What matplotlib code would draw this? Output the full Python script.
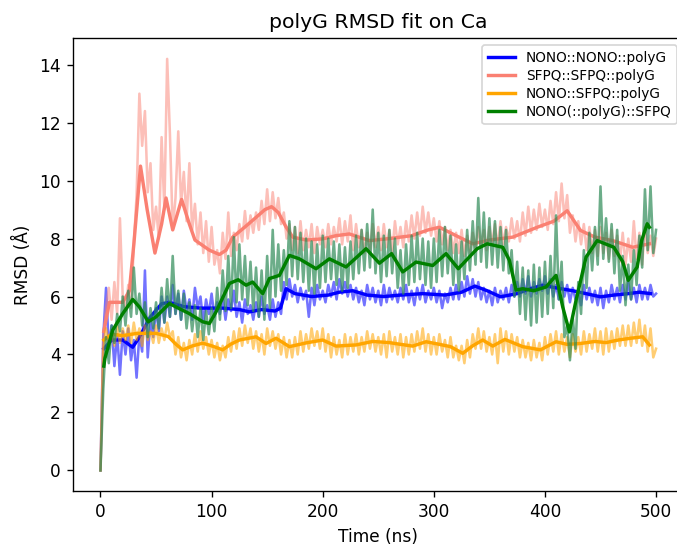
import numpy as np
import matplotlib
matplotlib.use("Agg")
import matplotlib.pyplot as plt

# time axis of the raw traces (ns)
t_raw = np.arange(0, 500.1, 2.5)

labels = ["NONO::NONO::polyG", "SFPQ::SFPQ::polyG", "NONO::SFPQ::polyG", "NONO(::polyG)::SFPQ"]

# raw RMSD (A), one row = 25 ns
nn_raw = [0.0, 4.6, 6.3, 4.2, 5.0, 3.6, 4.7, 3.3, 4.8, 4.0,
          4.9, 3.8, 4.5, 3.2, 4.7, 4.1, 6.9, 3.9, 5.2, 4.6,
          5.6, 4.8, 6.0, 5.1, 6.0, 5.3, 6.4, 5.4, 6.1, 5.2,
          6.2, 5.5, 5.9, 5.2, 6.3, 5.6, 6.0, 5.1, 5.9, 5.4,
          6.1, 5.3, 5.8, 5.4, 6.0, 5.2, 5.9, 5.5, 6.2, 5.3,
          5.8, 5.1, 5.9, 5.4, 5.7, 5.2, 5.8, 5.3, 6.0, 5.4,
          5.7, 5.2, 5.9, 5.3, 5.8, 5.4, 6.5, 5.9, 6.6, 6.0,
          6.4, 5.8, 6.3, 5.9, 6.2, 5.3, 6.3, 5.7, 6.4, 5.9,
          6.2, 5.8, 6.4, 6.0, 6.5, 5.9, 6.6, 6.1, 6.5, 6.0,
          6.4, 5.9, 6.3, 5.8, 6.2, 5.7, 6.4, 5.9, 6.3, 5.8,
          6.2, 5.7, 6.4, 5.8, 6.3, 5.9, 6.2, 5.8, 6.3, 5.9,
          6.4, 5.8, 6.2, 5.7, 6.3, 5.9, 6.4, 5.8, 6.2, 5.9,
          6.3, 5.8, 6.2, 5.6, 6.1, 5.8, 6.3, 5.9, 6.4, 5.9,
          6.5, 6.0, 6.7, 6.1, 6.6, 6.0, 6.5, 5.9, 6.3, 5.8,
          6.2, 5.7, 6.3, 5.8, 6.2, 5.9, 6.3, 5.8, 6.4, 6.0,
          6.5, 6.0, 6.6, 6.1, 6.7, 6.0, 6.5, 6.1, 6.6, 6.2,
          6.7, 6.1, 6.6, 6.0, 6.4, 5.9, 6.5, 6.0, 6.4, 5.8,
          6.3, 5.9, 6.2, 5.7, 6.4, 5.9, 6.3, 5.8, 6.2, 5.7,
          6.3, 5.6, 6.2, 5.8, 6.4, 5.9, 6.3, 5.8, 6.4, 5.9,
          6.5, 5.9, 6.3, 5.8, 6.4, 5.9, 6.3, 5.9, 6.4, 6.0,
          6.1]
ss_raw = [0.0, 4.6, 5.6, 6.3, 5.2, 6.5, 5.4, 8.7, 6.0, 5.5,
          6.4, 5.6, 7.8, 9.5, 13.0, 11.2, 12.4, 9.6, 10.6, 8.3,
          9.1, 8.0, 11.5, 9.0, 14.2, 11.6, 8.3, 9.4, 11.7, 9.2,
          10.3, 8.6, 10.6, 8.3, 9.2, 7.8, 8.9, 7.5, 8.6, 7.2,
          8.4, 7.1, 7.6, 6.8, 8.2, 7.3, 8.9, 7.4, 8.2, 7.6,
          8.5, 7.9, 8.95, 8.0, 8.8, 8.2, 8.9, 8.3, 9.3, 8.5,
          9.7, 8.6, 9.6, 8.7, 9.4, 8.5, 8.9, 8.0, 8.5, 7.6,
          8.4, 7.5, 8.6, 7.6, 8.3, 7.7, 8.5, 7.5, 8.4, 7.8,
          8.3, 7.7, 8.5, 7.8, 8.4, 7.9, 8.7, 7.8, 8.6, 7.9,
          8.8, 7.6, 8.5, 7.7, 8.3, 7.5, 8.2, 7.6, 8.5, 7.7,
          8.4, 7.6, 8.5, 7.7, 8.3, 7.5, 8.6, 7.8, 8.4, 7.7,
          8.6, 7.9, 8.8, 8.0, 8.9, 8.1, 9.1, 8.2, 8.9, 8.1,
          8.7, 7.9, 8.6, 7.8, 8.4, 7.6, 8.3, 7.5, 8.2, 7.5,
          8.3, 7.4, 8.1, 7.5, 8.2, 7.6, 8.4, 7.7, 8.3, 7.6,
          8.4, 7.8, 8.5, 7.7, 8.6, 7.8, 8.4, 7.9, 8.7, 8.0,
          8.6, 7.9, 8.9, 8.1, 9.1, 8.2, 9.0, 8.3, 9.2, 8.4,
          9.0, 8.3, 9.3, 8.5, 9.6, 8.6, 9.9, 8.7, 9.5, 8.2,
          8.8, 7.9, 8.6, 7.8, 8.5, 7.6, 8.4, 7.5, 8.3, 7.4,
          8.4, 7.5, 8.2, 7.3, 8.3, 7.4, 8.1, 7.2, 8.2, 7.1,
          8.0, 7.2, 8.6, 7.3, 8.2, 7.1, 8.4, 7.5, 8.1, 7.4,
          8.0]
ns_raw = [0.0, 4.2, 4.9, 4.4, 4.8, 4.3, 5.0, 4.4, 4.9, 4.5,
          5.0, 4.4, 5.1, 4.5, 4.9, 4.3, 5.0, 4.5, 4.8, 4.4,
          5.0, 4.4, 4.9, 4.5, 5.1, 4.6, 4.8, 4.0, 4.6, 3.9,
          4.4, 3.8, 4.5, 4.0, 4.7, 4.1, 4.8, 4.2, 4.6, 4.0,
          4.5, 3.9, 4.4, 3.8, 4.3, 3.9, 4.6, 4.1, 4.8, 4.2,
          4.9, 4.3, 5.0, 4.4, 4.9, 4.2, 4.8, 4.1, 4.7, 4.0,
          4.9, 4.3, 4.8, 4.2, 4.7, 4.0, 4.6, 3.9, 4.5, 3.9,
          4.6, 4.0, 4.8, 4.1, 4.7, 4.2, 4.9, 4.3, 4.8, 4.2,
          4.9, 4.1, 4.7, 3.9, 4.6, 4.0, 4.5, 3.9, 4.7, 4.0,
          4.6, 4.1, 4.7, 4.0, 4.6, 4.1, 4.8, 4.2, 4.7, 4.1,
          4.6, 4.0, 4.7, 3.9, 4.8, 4.1, 4.6, 4.0, 4.7, 3.9,
          4.6, 4.0, 4.7, 4.1, 4.8, 4.2, 4.9, 4.1, 4.7, 4.0,
          4.6, 4.0, 4.7, 4.1, 4.5, 3.9, 4.6, 3.9, 4.3, 3.8,
          4.3, 3.7, 4.5, 3.9, 4.7, 4.2, 4.9, 4.2, 4.8, 4.1,
          4.6, 4.0, 4.7, 3.7, 4.9, 4.1, 4.8, 4.0, 4.7, 4.1,
          4.6, 3.9, 4.5, 3.9, 4.4, 3.8, 4.5, 3.9, 4.4, 3.8,
          4.6, 4.0, 4.7, 4.1, 4.8, 4.0, 4.7, 4.1, 4.6, 3.9,
          4.7, 4.1, 4.6, 4.0, 4.8, 4.1, 4.7, 4.2, 4.9, 4.1,
          4.8, 4.0, 4.9, 4.1, 4.8, 4.2, 4.9, 4.3, 5.0, 4.3,
          5.0, 4.3, 5.1, 4.4, 5.2, 4.3, 5.0, 4.1, 4.9, 3.9,
          4.2]
nps_raw = [0.0, 2.8, 4.6, 3.7, 5.0, 4.4, 5.4, 4.8, 6.0, 5.0,
           6.2, 5.3, 7.0, 5.4, 6.1, 5.0, 5.8, 4.6, 5.6, 4.9,
           5.8, 4.9, 6.3, 5.1, 6.6, 5.3, 7.4, 5.4, 6.2, 5.2,
           6.1, 4.9, 5.8, 4.8, 5.7, 4.6, 5.6, 4.5, 5.5, 4.7,
           5.6, 4.8, 6.3, 5.2, 6.9, 5.5, 7.4, 5.6, 8.05, 5.8,
           7.8, 5.9, 7.4, 5.7, 7.2, 5.5, 7.0, 5.3, 6.9, 5.2,
           7.4, 5.6, 8.3, 6.0, 7.8, 6.2, 7.6, 6.4, 8.6, 6.7,
           8.4, 6.6, 8.2, 6.5, 8.0, 6.2, 7.9, 6.1, 7.8, 6.3,
           8.1, 6.5, 8.0, 6.6, 7.9, 6.4, 7.8, 6.2, 7.7, 6.3,
           7.9, 6.6, 8.1, 6.8, 8.3, 6.9, 8.5, 7.0, 9.0, 6.8,
           8.2, 6.5, 8.1, 6.7, 8.3, 6.8, 8.0, 6.3, 7.6, 6.1,
           7.8, 6.4, 8.1, 6.5, 8.2, 6.6, 8.0, 6.4, 7.9, 6.3,
           8.0, 6.5, 8.3, 6.7, 8.4, 6.8, 8.1, 6.4, 7.8, 6.2,
           7.9, 6.6, 8.3, 6.9, 8.6, 7.1, 9.4, 7.2, 8.9, 7.0,
           8.7, 7.1, 8.6, 7.0, 8.4, 6.9, 8.3, 6.8, 7.6, 6.0,
           7.2, 5.4, 7.0, 5.2, 6.9, 5.0, 7.1, 5.1, 7.0, 5.3,
           7.2, 5.4, 7.4, 5.6, 8.8, 5.9, 7.2, 4.6, 5.0, 3.8,
           5.3, 4.2, 6.5, 5.4, 7.6, 6.3, 8.2, 6.9, 8.4, 7.1,
           9.8, 7.3, 8.7, 7.2, 8.5, 6.8, 8.3, 6.2, 7.4, 5.7,
           7.1, 5.9, 7.6, 6.4, 8.1, 7.0, 9.7, 7.6, 9.8, 7.5,
           8.3]

# running-average curves (time, RMSD)
nn_t = [3, 10, 20, 29, 35, 45, 55, 62, 75, 90, 110, 125, 134, 145, 157, 162, 167, 175, 190, 205, 215, 227, 240,
        255, 270, 290, 310, 325, 337, 348, 360, 375, 385, 398, 410, 425, 437, 450, 462, 475, 485, 495]
nn_avg = [4.2, 4.5, 4.5, 4.25, 4.6, 5.3, 5.75, 5.8, 5.65, 5.6, 5.6, 5.55, 5.47, 5.55, 5.5, 5.6, 6.27, 6.1, 6.0,
          6.05, 6.15, 6.2, 6.05, 6.0, 6.05, 6.1, 6.05, 6.15, 6.36, 6.2, 5.99, 6.1, 6.25, 6.39, 6.3, 6.2, 6.1, 5.99,
          6.05, 6.1, 6.15, 6.1]
ss_t = [3, 8, 20, 26, 30, 36, 42, 49, 55, 59, 65, 73, 80, 85, 98, 107, 113, 119, 130, 140, 148, 154, 160, 167,
        173, 185, 200, 212, 224, 242, 260, 280, 295, 305, 320, 335, 350, 371, 393, 408, 420, 432, 445, 461, 479, 494]
ss_avg = [4.8, 5.8, 5.8, 6.2, 7.8, 10.5, 9.0, 7.5, 8.5, 9.4, 8.3, 9.35, 8.5, 7.95, 7.6, 7.45, 7.6, 8.05, 8.4, 8.73,
          9.0, 9.1, 8.9, 8.4, 8.05, 7.95, 7.99, 8.1, 8.16, 7.93, 8.0, 8.1, 8.3, 8.39, 8.1, 7.82, 7.95, 8.05, 8.39,
          8.6, 8.96, 8.28, 8.05, 7.93, 7.7, 7.82]
ns_t = [3, 10, 20, 33, 50, 61, 68, 74, 83, 92, 100, 110, 117, 125, 140, 149, 158, 170, 185, 200, 212, 230, 245,
        260, 270, 281, 293, 305, 315, 326, 335, 344, 353, 364, 380, 396, 410, 420, 432, 445, 455, 466, 477, 488, 494]
ns_avg = [4.5, 4.7, 4.65, 4.73, 4.73, 4.62, 4.35, 4.16, 4.3, 4.39, 4.3, 4.16, 4.35, 4.5, 4.61, 4.38, 4.56, 4.27,
          4.4, 4.5, 4.29, 4.33, 4.45, 4.41, 4.35, 4.29, 4.44, 4.35, 4.27, 4.04, 4.3, 4.5, 4.29, 4.52, 4.27, 4.16,
          4.44, 4.35, 4.38, 4.45, 4.41, 4.5, 4.56, 4.61, 4.33]
nps_t = [3, 4, 11, 20, 29, 35, 43, 50, 62, 68, 80, 92, 98, 104, 116, 124, 131, 137, 146, 152, 161, 170, 179, 194,
         206, 221, 239, 251, 262, 272, 284, 299, 311, 322, 339, 348, 362, 368, 374, 380, 390, 401, 410, 416, 422,
         428, 437, 447, 462, 470, 475, 483, 487, 492, 494]
nps_avg = [3.6, 3.87, 4.84, 5.41, 5.9, 5.64, 5.13, 5.3, 5.76, 5.64, 5.41, 5.13, 5.07, 5.47, 6.45, 6.58, 6.39, 6.5,
           6.1, 6.62, 6.73, 7.42, 7.3, 6.96, 7.3, 7.02, 7.65, 7.15, 7.48, 6.85, 7.19, 7.07, 7.48, 6.96, 7.65, 7.82,
           7.7, 7.25, 6.22, 6.27, 6.2, 6.33, 6.73, 5.64, 4.78, 5.87, 7.36, 7.93, 7.7, 7.2, 6.56, 7.02, 7.93, 8.51,
           8.39]

dpi = 122.5
fig = plt.figure(figsize=(677 / dpi, 545 / dpi), dpi=dpi)
# the right edge of the axes runs past the picture, as in the original crop
ax = fig.add_axes([0.1074, 0.0991, 0.9027, 0.8306])

series = [
    (nn_raw, nn_t, nn_avg, "blue", "blue", 0.55),
    (ss_raw, ss_t, ss_avg, "salmon", "salmon", 0.5),
    (ns_raw, ns_t, ns_avg, "orange", "orange", 0.55),
    (nps_raw, nps_t, nps_avg, "seagreen", "green", 0.7),
]
for (raw, tt, avg, rcol, col, a), lab in zip(series, labels):
    ax.plot(t_raw, raw, color=rcol, alpha=a, lw=1.5)
    ax.plot(tt, avg, color=col, lw=2, label=lab)

ax.set_xlim(-25, 525)
ax.set_ylim(-0.71, 14.91)
ax.set_xlabel("Time (ns)")
ax.set_ylabel("RMSD (Å)")
ax.set_title("polyG RMSD fit on Ca")
ax.legend(loc="upper right", fontsize=8, labelspacing=0.3)

plt.savefig("out.png", dpi=dpi)
